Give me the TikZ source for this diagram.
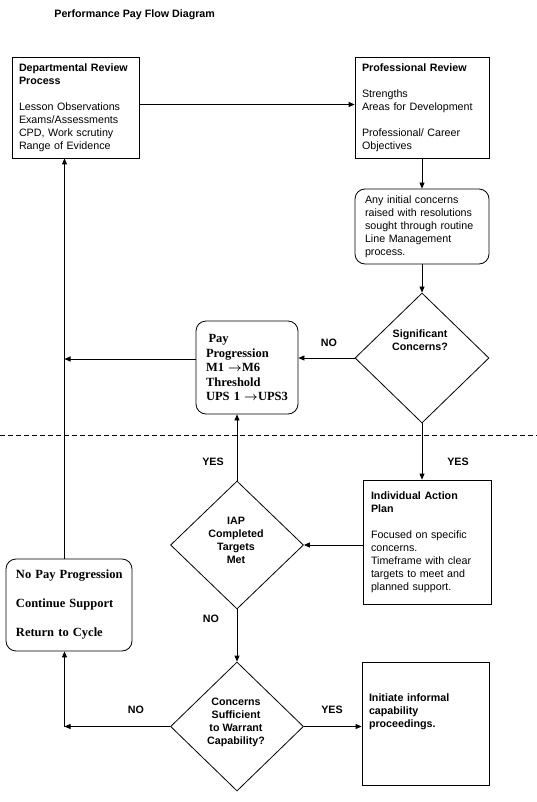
\documentclass[tikz,border=0pt]{standalone}
\usepackage{fontspec}
\setsansfont{Liberation Sans}
\newfontfamily\boxserif{Liberation Serif}
\usetikzlibrary{arrows.meta,shapes.geometric}
\newcommand{\lw}{.8pt}
\newcommand{\upto}{~{\boldmath$\rightarrow$}}

\begin{document}
\begin{tikzpicture}[x=1pt, y=-1pt, line width=\lw,
  every node/.style={font=\sffamily\fontsize{10.7}{13}\selectfont},
  box/.style={draw, rectangle, align=left, inner ysep=0pt},
  rbox/.style={box, rounded corners=10pt},
  serif/.style={font=\boxserif\bfseries\fontsize{12.5}{14.5}\selectfont},
  decision/.style={draw, diamond, inner sep=0pt},
  tag/.style={font=\sffamily\bfseries\fontsize{10.7}{13}\selectfont},
  arr/.style={-{Triangle[length=6pt,width=5pt]}}]
      \useasboundingbox (0,0) rectangle (537,802);
      \node (title) at (54,15) [anchor=west, inner sep=0pt, tag] {Performance Pay Flow Diagram};

      \node (dept) at (75.5,107.5) [box, text width=113pt, inner xsep=7pt, minimum width=127pt, minimum height=101pt]
        {\textbf{Departmental Review}\\\textbf{Process}\\[13pt]Lesson Observations\\Exams/Assessments\\CPD, Work scrutiny\\Range of Evidence};
      \node (prof) at (422,107.5) [box, text width=120pt, inner xsep=7pt, minimum width=134pt, minimum height=101pt]
        {\textbf{Professional Review}\\[13pt]Strengths\\Areas for Development\\[13pt]Professional/ Career\\Objectives};
      \node (conc) at (422,226.5) [rbox, text width=114pt, inner xsep=10pt, minimum width=134pt, minimum height=75pt]
        {Any initial concerns\\raised with resolutions\\sought through routine\\Line Management\\process.};
      \node (sig) at (422,358) [decision, minimum width=134pt, minimum height=130pt] {};
      \node (sigtext) at (420,340.5) [tag, align=center] {Significant\\Concerns?};
      \node (pay) at (247,367.5) [rbox, serif, text width=82pt, inner xsep=10pt, minimum width=102pt, minimum height=93pt]
        {\hspace{2.5pt}Pay\\Progression\\\mbox{M1\upto M6}\\Threshold\\\mbox{UPS 1\upto UPS3}};
      \node (iapbox) at (427,542) [box, text width=112pt, inner xsep=8pt, minimum width=128pt, minimum height=124pt]
        {\textbf{Individual Action}\\\textbf{Plan}\\[13pt]Focused on specific\\concerns.\\Timeframe with clear\\targets to meet and\\planned support.};
      \node (iap) at (237,545) [decision, minimum width=133pt, minimum height=128pt] {};
      \node (iaptext) at (236,540.5) [tag, align=center] {IAP\\Completed\\Targets\\Met};
      \node (nopay) at (69,605) [rbox, serif, text width=106pt, inner xsep=10pt, minimum width=126pt, minimum height=92pt]
        {\mbox{No Pay Progression}\\[14.5pt]Continue Support\\[14.5pt]Return to Cycle};
      \node (cap) at (237,726.5) [decision, minimum width=133pt, minimum height=129pt] {};
      \node (captext) at (236,722) [tag, align=center] {Concerns\\Sufficient\\to Warrant\\Capability?};
      \node (init) at (425.5,723.5) [box, text width=113pt, inner xsep=7pt, minimum width=127pt, minimum height=123pt]
        {\textbf{Initiate informal}\\\textbf{capability}\\\textbf{proceedings.}\\[12pt]\mbox{}};
      \coordinate (mid) at (64.5,359);
      \coordinate (low) at (64.5,726.5);

      \draw[arr] ([yshift=3pt]dept.east) to ([yshift=3pt]dept.east -| prof.west);
      \draw[arr] (prof) to (conc);
      \draw[arr] (conc) to (sig);
      \draw[arr] (sig.west) to (sig.west -| pay.east);
      \draw[arr] (pay.west |- mid) to (mid);
      \draw[arr] (mid |- nopay.north) to (mid |- dept.south);
      \draw[arr] (sig.south) to (sig.south |- iapbox.north);
      \draw[arr] (iap.east -| iapbox.west) to (iap.east);
      \draw[arr] (iap.north) to (iap.north |- pay.south);
      \draw[arr] (iap) to (cap);
      \draw[arr] (cap.west) to (low);
      \draw[arr] (low) to (low |- nopay.south);
      \draw[arr] (cap.east) to (cap.east -| init.west);

      \draw[dash pattern=on 5pt off 3pt] (0,435) -- (537,435);
      \draw
        (329,343) node[tag] (no1) {NO} (458,462) node[tag] (yes1) {YES}
        (213,462) node[tag] (yes2) {YES} (211,619) node[tag] (no2) {NO}
        (136,710) node[tag] (no3) {NO} (332,710) node[tag] (yes3) {YES};
\end{tikzpicture}
\end{document}
